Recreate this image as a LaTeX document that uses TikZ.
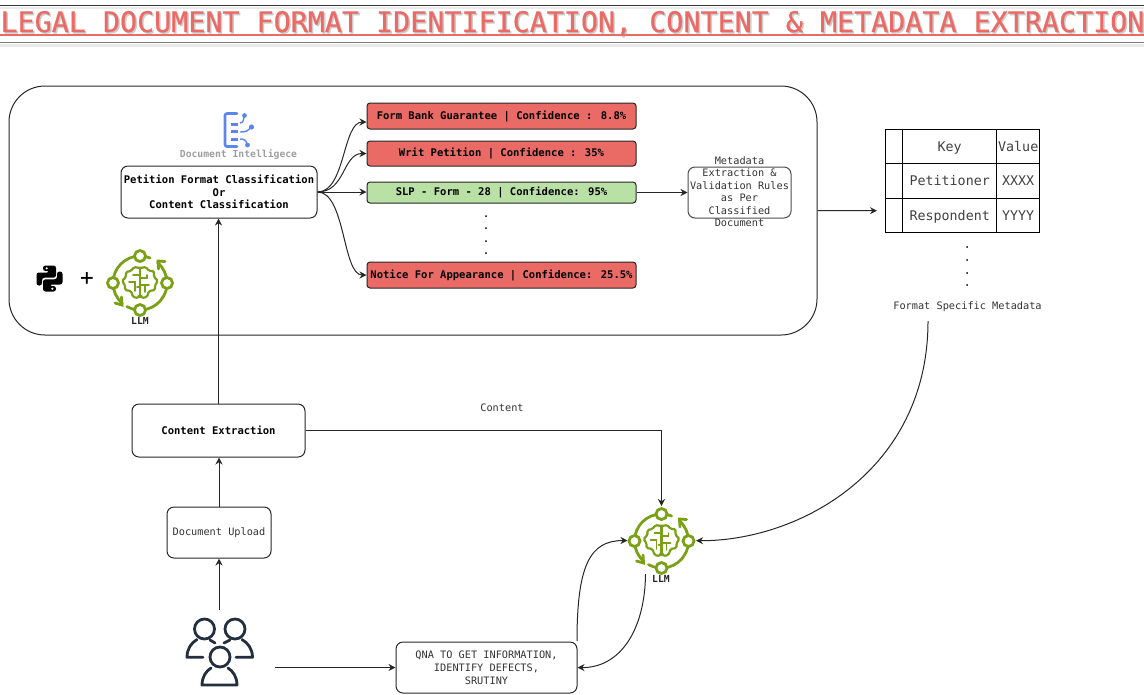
\documentclass[tikz,border=0pt]{standalone}
\usepackage{fontspec}
\setmainfont{DejaVu Sans Mono}
\newfontfamily\titlefont[FakeBold=0.6]{DejaVu Sans Mono}
\usetikzlibrary{arrows.meta,calc}
\def\px{0.75pt}
\definecolor{redfill}{HTML}{EA6B66}
\definecolor{greenfill}{HTML}{B9E0A5}
\definecolor{llmgreen}{HTML}{7AA116}
\definecolor{docblue}{HTML}{5C85F0}
\definecolor{userdark}{HTML}{232F3E}
\newcommand\myfs[2]{\fontsize{#1}{#2}\selectfont}
\tikzset{
  wire/.style={draw=black!85,line width=1*\px,-{Stealth[length=7*\px,width=7*\px]}},
  card/.style={draw=black!85,rounded corners=7*\px,line width=1*\px,inner sep=0pt,align=center,text=black},
  conf/.style={draw=black!85,rounded corners=3*\px,line width=1*\px,inner sep=0pt,align=center,font=\myfs{7.9}{10}\bfseries},
  plain/.style={inner sep=0pt,align=center,text=black!80,font=\myfs{7.7}{9.4}},
  cell/.style={draw=black,line width=1*\px,inner sep=0pt,text=black!75,font=\myfs{10}{12},text height=8.5pt,text depth=1.5pt},
  dotmark/.style={circle,fill=black,inner sep=0pt,minimum size=2*\px},
  llmring/.style={draw=llmgreen,line width=2.8*\px,line cap=round,line join=miter},
  llmicon/.pic={
    \begin{scope}[y=0.75pt]
      \draw[llmring] (90:27) arc[start angle=90,end angle=180,radius=27*\px];
      \draw[llmring] (180:27) arc[start angle=180,end angle=229,radius=27*\px];
      \draw[llmring] (241:27) arc[start angle=241,end angle=360,radius=27*\px];
      \draw[llmring] (0:27) arc[start angle=0,end angle=49,radius=27*\px];
      \draw[llmring] (68:27) arc[start angle=68,end angle=90,radius=27*\px];
      \draw[llmring] (25,21.5) -- (18,22) -- (18.5,14);
      \draw[llmring] (-25,-20) -- (-18,-22) -- (-18.5,-14);
      \foreach \a in {0,90,180,270}
        \draw[llmring,fill=white] (\a:27) circle[radius=5.5*\px];
      \draw[llmring,line width=2.2*\px,rounded corners=1.5*\px]
        (0,15) -- (6,16) -- (9,12) -- (14,12) -- (14,6) -- (18,2) -- (15,-2) -- (15,-7) -- (9,-8) -- (7,-14) -- (2,-15) -- (0,-13)
        -- (-2,-15) -- (-7,-14) -- (-9,-8) -- (-15,-7) -- (-15,-2) -- (-18,2) -- (-14,6) -- (-14,11) -- (-9,12) -- (-6,16) -- cycle;
      \draw[llmring,line width=2.2*\px] (0,15) -- (0,-13);
      \draw[llmring,line width=1.8*\px] (0,5) -- (7,5) -- (7,8) (0,-2) -- (9,-2) (5,-2) -- (5,-9);
      \draw[llmring,line width=1.8*\px] (0,8) -- (-7,8) (-11,1) -- (-5,1) -- (-5,-8) (0,-4) -- (-3,-4);
    \end{scope}
  }
}
\begin{document}
\begin{tikzpicture}[x=0.75pt,y=-0.75pt,line width=1*\px]
\useasboundingbox (0,0) rectangle (1144,694);
% title band
\coordinate (bandTL) at (0,5); \coordinate (bandTR) at (1144,5);
\coordinate (bandBL) at (0,42.5); \coordinate (bandBR) at (1144,42.5);
\fill[black!8] (0,7) rectangle (1144,9);
\fill[black!8] (0,44) rectangle (1144,47);
\draw[black!80] (bandTL) -- (bandTR);
\draw[black!50,line width=1.5*\px] (bandBL) -- (bandBR);
\node[anchor=base west,inner sep=0pt,text=black!20,font=\titlefont\myfs{21.27}{24}] at (1.5,33.5) {LEGAL DOCUMENT FORMAT IDENTIFICATION, CONTENT \& METADATA EXTRACTION};
\node[anchor=base west,inner sep=0pt,text=redfill,font=\titlefont\myfs{21.27}{24}] (title) at (0,32) {LEGAL DOCUMENT FORMAT IDENTIFICATION, CONTENT \& METADATA EXTRACTION};
\draw[redfill,line width=1.6*\px] (0,35) -- (1144,35);

% outer group
\node[draw=black!85,rounded corners=36*\px,minimum width=808*\px,minimum height=249*\px,inner sep=0pt] (outer) at (413,210.5) {};

% document intelligence icon
\begin{scope}[docblue]
  \draw[line width=2.6*\px,line cap=round,rounded corners=2*\px] (237,113.5) -- (225,113.5) -- (225,146.5) -- (237,146.5);
  \draw[line width=2.6*\px] (231,124.5) -- (238,124.5) (231,131.5) -- (238,131.5) (231,139.5) -- (238,139.5);
  \draw[line width=1.4*\px] (240,123) .. controls (243,123) and (244,120) .. (244,115);
  \draw[line width=1.4*\px] (240,132) .. controls (246,132) and (248,131) .. (251,127);
  \draw[line width=1.4*\px] (240,139) .. controls (244,139) and (246,140) .. (247,144);
  \fill (244.5,115.5) circle[radius=2.4*\px] (251.5,127) circle[radius=2.6*\px] (247.5,145) circle[radius=2.4*\px];
\end{scope}
\node[inner sep=0pt,text=black!38,font=\myfs{7.3}{9}\bfseries] (dilabel) at (238.5,155) {Document Intelligece};

% python + llm
\begin{scope}[shift={(49.5,278.5)}]
  \foreach \r in {0,180}{
    \begin{scope}[rotate=\r]
      \fill[black,rounded corners=2.5*\px] (-6.5,-7.5) -- (-6.5,-13) -- (6.5,-13) -- (6.5,-0.8) -- (-7.5,-0.8) -- (-7.5,7) -- (-13,7) -- (-13,-6) -- (0,-6) -- (0,-7.5) -- cycle;
      \fill[white] (-2.8,-10.2) circle[radius=1.2*\px];
    \end{scope}
  }
\end{scope}
\node[inner sep=0pt,font=\myfs{17}{20}] (plus) at (87,279.5) {+};
\pic at (140,283) {llmicon};
\node[inner sep=0pt,text=black!85,font=\myfs{7.3}{9}\bfseries] (llmA) at (140,321) {LLM};

% classification
\node[card,minimum width=196*\px,minimum height=52*\px,font=\myfs{7.9}{9.4}\bfseries] (pet) at (219,192) {Petition Format Classification\\Or\\Content Classification};
\node[conf,fill=redfill,minimum width=269*\px,minimum height=26*\px] (form) at (501.5,116) {Form Bank Guarantee | Confidence : 8.8\%};
\node[conf,fill=redfill,minimum width=269*\px,minimum height=25*\px] (writ) at (501.5,153.5) {Writ Petition | Confidence : 35\%};
\node[conf,fill=greenfill,minimum width=269*\px,minimum height=21*\px] (slp) at (501.5,192.5) {SLP - Form - 28 | Confidence: 95\%};
\node[conf,fill=redfill,minimum width=269*\px,minimum height=26*\px] (notice) at (501.5,275) {Notice For Appearance | Confidence: 25.5\%};
\foreach \yy in {216,228,241,253} \node[dotmark] at (486,\yy) {};
\draw[wire] (pet.east) .. controls +(28,0) and +(-24,0) .. ([yshift=-6*\px]form.west);
\draw[wire] (pet.east) .. controls +(28,0) and +(-24,0) .. (writ.west);
\draw[wire] (pet.east) -- (slp.west |- pet.east);
\draw[wire] (pet.east) .. controls +(28,0) and +(-24,0) .. (notice.west);

% metadata rules
\node[draw=black!70,rounded corners=7*\px,minimum width=103*\px,minimum height=51*\px,inner sep=0pt] (rules) at (739.5,192.5) {};
\node[plain] (rulestext) at (739.5,191.5) {Metadata\\Extraction \&\\Validation Rules\\as Per\\Classified\\Document};
\draw[wire] (slp.east) -- (rules.west);

% table
\coordinate (tblin) at (877,210.7);
\draw[wire] (outer.east) -- (tblin);
\node[cell,minimum width=17*\px,minimum height=34.5*\px] (c11) at (894.2,146.4) {};
\node[cell,minimum width=94*\px,minimum height=34.5*\px] (c12) at (949.7,146.4) {Key};
\node[cell,minimum width=43*\px,minimum height=34.5*\px] (c13) at (1018.2,146.4) {Value};
\node[cell,minimum width=17*\px,minimum height=34.5*\px] (c21) at (894.2,180.9) {};
\node[cell,minimum width=94*\px,minimum height=34.5*\px] (c22) at (949.7,180.9) {Petitioner};
\node[cell,minimum width=43*\px,minimum height=34.5*\px] (c23) at (1018.2,180.9) {XXXX};
\node[cell,minimum width=17*\px,minimum height=34.5*\px] (c31) at (894.2,215.4) {};
\node[cell,minimum width=94*\px,minimum height=34.5*\px] (c32) at (949.7,215.4) {Respondent};
\node[cell,minimum width=43*\px,minimum height=34.5*\px] (c33) at (1018.2,215.4) {YYYY};
\foreach \yy in {247,260,273,285} \node[dotmark] at (967,\yy) {};
\node[plain] (fsm) at (967.5,306.5) {Format Specific Metadata};

% lower flow
\node[card,minimum width=173*\px,minimum height=53*\px,font=\myfs{7.9}{9.4}\bfseries] (extract) at (218.5,430.5) {Content Extraction};
\node[card,minimum width=104*\px,minimum height=51*\px,text=black!80,font=\myfs{7.7}{9.4}] (upload) at (219,532.5) {Document Upload};
\node[card,minimum width=181*\px,minimum height=51*\px,text=black!80,font=\myfs{7.7}{9.8}] (qna) at (486.5,667.5) {QNA TO GET INFORMATION,\\IDENTIFY DEFECTS,\\SRUTINY};
\node[plain] (contentlabel) at (502,407.5) {Content};

% users icon
\begin{scope}[line cap=round,line join=round]
  \tikzset{usr/.style={draw=userdark,line width=2.8*\px}}
  \draw[usr] (204.5,629) circle[radius=10*\px];
  \draw[usr] (235,629) circle[radius=10*\px];
  \draw[usr] (220,657) circle[radius=10*\px];
  \draw[usr] (203,657.3) -- (187,657.3) .. controls (187,649) and (191,643) .. (197,639.5);
  \draw[usr] (236,657.3) -- (252.5,657.3) .. controls (252.5,649) and (248,643) .. (242,639.5);
  \draw[usr] (210,640) -- (215,643);
  \draw[usr] (230,640) -- (224,643);
  \draw[usr] (211,668) .. controls (206,671) and (202,677) .. (202,685) -- (237,685) .. controls (237,677) and (233,671) .. (228,668);
\end{scope}

% llm
\pic at (661.5,541) {llmicon};
\node[inner sep=0pt,text=black!85,font=\myfs{7.3}{9}\bfseries] (llmB) at (661,579) {LLM};
\coordinate (llmTop) at (661.5,506);
\coordinate (llmLeft) at (627.5,540.5);
\coordinate (llmRight) at (696,540.7);
\coordinate (llmBottom) at (645.5,574);
\coordinate (userTop) at (219,610);
\coordinate (userRight) at (275,667.5);
\coordinate (fsmOut) at (928,321);
\coordinate (qnaOut) at (577,641);

\draw[wire] (extract.north) -- (extract.north |- pet.south);
\draw[wire] (upload.north) -- (upload.north |- extract.south);
\draw[wire] (userTop) -- (userTop |- upload.south);
\draw[wire] (userRight) -- (qna.west);
\draw[wire] (extract.east) -| (llmTop);
\draw[wire] (fsmOut) .. controls (928,470) and (800,541) .. (llmRight);
\draw[wire] (qnaOut) .. controls (577,565) and (590,540.5) .. (llmLeft);
\draw[wire] (llmBottom) .. controls (645,630) and (620,668) .. (qna.east);
\end{tikzpicture}
\end{document}
